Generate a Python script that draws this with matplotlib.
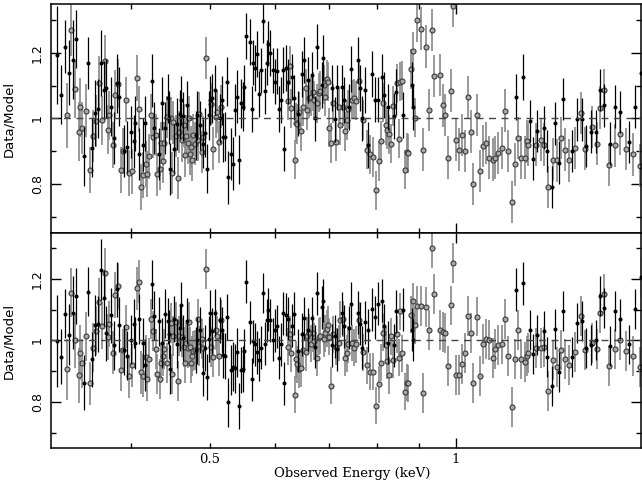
import matplotlib
matplotlib.use("Agg")
import matplotlib.pyplot as plt
from matplotlib.ticker import FixedLocator, FixedFormatter, NullFormatter

# filled dots (black bars): energies in keV, ratios for the two fits, 1-sigma errors
e_mos = [0.3250, 0.3287, 0.3325, 0.3362, 0.3400, 0.3429, 0.3507, 0.3547, 0.3587, 0.3618,
         0.3648, 0.3679, 0.3711, 0.3732, 0.3784, 0.3817, 0.3849, 0.3871, 0.3926, 0.3959,
         0.4004, 0.4038, 0.4049, 0.4095, 0.4141, 0.4165, 0.4248, 0.4272, 0.4332, 0.4369,
         0.4406, 0.4443, 0.4456, 0.4469, 0.4519, 0.4558, 0.4596, 0.4609, 0.4635, 0.4688,
         0.4808, 0.4822, 0.4863, 0.4904, 0.4932, 0.4959, 0.4987, 0.5001, 0.5030, 0.5072,
         0.5144, 0.5173, 0.5188, 0.5217, 0.5247, 0.5262, 0.5306, 0.5336, 0.5366, 0.5397,
         0.5427, 0.5458, 0.5489, 0.5504, 0.5535, 0.5598, 0.5630, 0.5645, 0.5677, 0.5709,
         0.5742, 0.5774, 0.5807, 0.5839, 0.5872, 0.5889, 0.5922, 0.5972, 0.6006, 0.6040,
         0.6074, 0.6109, 0.6143, 0.6160, 0.6195, 0.6230, 0.6301, 0.6336, 0.6408, 0.6481,
         0.6517, 0.6591, 0.6666, 0.6722, 0.6760, 0.6856, 0.6876, 0.7052, 0.7112, 0.7152,
         0.7254, 0.7295, 0.7398, 0.7440, 0.7588, 0.7631, 0.7674, 0.7739, 0.7805, 0.7893,
         0.7960, 0.8028, 0.8119, 0.8164, 0.8257, 0.8398, 0.8445, 0.8613, 0.8834, 0.8859,
         1.184, 1.208, 1.232, 1.242, 1.256, 1.281, 1.292, 1.310, 1.321, 1.336,
         1.352, 1.386, 1.406, 1.426, 1.442, 1.463, 1.483, 1.500, 1.517, 1.543,
         1.565, 1.587, 1.628, 1.655, 1.684]
mos_top = [1.195, 1.072, 1.22, 1.14, 1.18, 1.243, 0.884, 1.17, 0.91, 1.017,
           1.03, 1.17, 1.087, 1.092, 1.036, 0.94, 1.108, 1.067, 0.90, 0.913,
           0.959, 0.93, 0.985, 0.892, 0.92, 0.985, 1.116, 0.97, 0.892, 1.046,
           0.971, 1.062, 1.003, 0.846, 0.908, 0.983, 1.013, 1.056, 1.007, 1.041,
           0.949, 1.01, 0.979, 0.923, 0.956, 0.846, 1.01, 1.056, 1.062, 1.087,
           1.0, 1.056, 0.942, 0.944, 1.113, 0.82, 0.892, 0.862, 1.026, 1.067,
           0.874, 1.046, 1.036, 1.095, 1.253, 1.233, 1.028, 1.171, 1.154, 1.198,
           1.074, 1.147, 1.297, 1.085, 1.171, 1.229, 1.2, 1.147, 1.113, 1.144,
           1.028, 1.056, 1.149, 0.908, 1.154, 1.113, 1.128, 1.064, 1.015, 1.136,
           1.179, 1.118, 1.133, 1.0, 1.22, 1.103, 1.185, 1.092, 0.997, 1.095,
           1.095, 1.056, 1.036, 1.151, 1.179, 1.094, 1.0, 1.087, 0.918, 1.136,
           1.058, 1.058, 1.126, 1.072, 1.036, 1.007, 1.082, 1.01, 1.103, 1.036,
           1.065, 1.128, 0.993, 0.877, 0.962, 0.972, 0.90, 0.79, 0.985, 0.865,
           1.06, 0.90, 0.997, 0.997, 0.916, 0.96, 0.96, 1.087, 1.04, 0.923,
           1.036, 1.02, 0.928, 1.036, 1.138]
mos_bot = [0.998, 0.947, 1.087, 1.019, 1.091, 1.145, 0.863, 1.159, 0.939, 1.049,
           1.054, 1.231, 1.138, 1.023, 1.082, 0.984, 1.167, 1.052, 0.969, 0.95,
           1.003, 1.055, 0.992, 1.07, 0.992, 0.919, 1.183, 1.081, 1.062, 0.992,
           1.087, 1.062, 1.02, 0.906, 1.07, 0.99, 1.041, 1.116, 1.009, 1.062,
           0.97, 1.0, 1.033, 0.894, 0.976, 0.88, 1.005, 1.089, 1.03, 1.091,
           1.066, 1.035, 0.952, 0.949, 1.076, 0.799, 0.904, 0.915, 0.909, 0.962,
           0.786, 0.904, 0.906, 0.966, 1.191, 1.059, 0.874, 0.998, 0.987, 0.962,
           0.937, 0.976, 1.156, 0.99, 1.066, 1.1, 1.066, 1.003, 1.033, 1.046,
           0.944, 0.987, 1.089, 0.861, 1.084, 1.07, 1.048, 1.087, 0.966, 1.02,
           1.073, 1.035, 1.073, 0.98, 1.154, 1.109, 1.13, 0.984, 1.014, 0.971,
           1.089, 1.046, 1.041, 1.119, 1.091, 1.055, 0.976, 1.059, 1.033, 1.102,
           1.076, 1.119, 1.13, 1.048, 0.992, 0.984, 1.095, 1.1, 1.035, 1.003,
           1.165, 1.186, 1.035, 0.955, 1.019, 1.03, 0.947, 0.851, 1.038, 0.898,
           1.095, 0.947, 1.057, 1.062, 0.976, 0.984, 1.003, 1.145, 1.105, 0.982,
           1.095, 1.07, 0.987, 1.102, 1.208]
mos_err = [0.15, 0.09, 0.08, 0.10, 0.12, 0.09, 0.09, 0.08, 0.09, 0.10,
           0.09, 0.10, 0.09, 0.09, 0.09, 0.08, 0.09, 0.09, 0.08, 0.08,
           0.08, 0.08, 0.085, 0.08, 0.08, 0.085, 0.08, 0.08, 0.08, 0.08,
           0.08, 0.075, 0.08, 0.08, 0.075, 0.08, 0.075, 0.075, 0.075, 0.075,
           0.075, 0.075, 0.075, 0.075, 0.075, 0.075, 0.075, 0.075, 0.075, 0.075,
           0.075, 0.075, 0.075, 0.075, 0.075, 0.08, 0.08, 0.08, 0.08, 0.08,
           0.075, 0.075, 0.075, 0.07, 0.07, 0.07, 0.07, 0.07, 0.07, 0.07,
           0.07, 0.07, 0.065, 0.07, 0.07, 0.07, 0.07, 0.07, 0.07, 0.07,
           0.07, 0.07, 0.07, 0.07, 0.07, 0.07, 0.07, 0.07, 0.07, 0.07,
           0.07, 0.07, 0.07, 0.07, 0.07, 0.07, 0.07, 0.07, 0.07, 0.07,
           0.07, 0.07, 0.07, 0.07, 0.07, 0.07, 0.07, 0.07, 0.07, 0.07,
           0.07, 0.07, 0.07, 0.07, 0.07, 0.07, 0.07, 0.07, 0.07, 0.07,
           0.07, 0.07, 0.065, 0.065, 0.065, 0.065, 0.065, 0.065, 0.065, 0.065,
           0.065, 0.065, 0.065, 0.065, 0.065, 0.065, 0.065, 0.065, 0.065, 0.065,
           0.065, 0.065, 0.065, 0.065, 0.065]

# open circles (grey bars)
e_pn = [0.3343, 0.3381, 0.3420, 0.3458, 0.3468, 0.3488, 0.3527, 0.3567, 0.3597, 0.3628,
        0.3659, 0.3690, 0.3721, 0.3753, 0.3763, 0.3806, 0.3827, 0.3860, 0.3893, 0.3915,
        0.3948, 0.3981, 0.4015, 0.4072, 0.4095, 0.4118, 0.4141, 0.4177, 0.4188, 0.4212,
        0.4236, 0.4260, 0.4296, 0.4308, 0.4344, 0.4357, 0.4381, 0.4394, 0.4431, 0.4481,
        0.4494, 0.4507, 0.4545, 0.4570, 0.4583, 0.4622, 0.4648, 0.4661, 0.4675, 0.4701,
        0.4714, 0.4728, 0.4741, 0.4754, 0.4768, 0.4795, 0.4835, 0.4849, 0.4890, 0.4904,
        0.4945, 0.5016, 0.5044, 0.5087, 0.5101, 0.5130, 0.5159, 0.6230, 0.6265, 0.6283,
        0.6354, 0.6372, 0.6390, 0.6426, 0.6463, 0.6499, 0.6554, 0.6573, 0.6610, 0.6647,
        0.6685, 0.6703, 0.6760, 0.6799, 0.6818, 0.6895, 0.6914, 0.6954, 0.6973, 0.6993,
        0.7032, 0.7072, 0.7132, 0.7193, 0.7213, 0.7274, 0.7315, 0.7356, 0.7377, 0.7461,
        0.7503, 0.7545, 0.7609, 0.7696, 0.7783, 0.7849, 0.7915, 0.7983, 0.8050, 0.8096,
        0.8142, 0.8211, 0.8234, 0.8280, 0.8327, 0.8374, 0.8469, 0.8517, 0.8541, 0.8589,
        0.8662, 0.8711, 0.8736, 0.8810, 0.8859, 0.8909, 0.8960, 0.906, 0.911, 0.919,
        0.927, 0.935, 0.940, 0.956, 0.964, 0.969, 0.978, 0.986, 0.992, 1.000,
        1.008, 1.017, 1.026, 1.034, 1.043, 1.049, 1.061, 1.070, 1.079, 1.088,
        1.097, 1.110, 1.116, 1.126, 1.138, 1.148, 1.158, 1.171, 1.181, 1.191,
        1.201, 1.214, 1.221, 1.225, 1.253, 1.270, 1.281, 1.296, 1.314, 1.329,
        1.344, 1.359, 1.375, 1.398, 1.422, 1.438, 1.467, 1.487, 1.500, 1.517,
        1.539, 1.565, 1.587, 1.614, 1.646, 1.679]
pn_top = [1.01, 1.27, 1.09, 0.96, 1.034, 0.971, 1.024, 0.843, 0.946, 0.993,
          1.11, 0.995, 1.176, 0.966, 1.01, 0.92, 1.072, 1.106, 0.843, 0.90,
          1.058, 0.834, 0.838, 1.124, 1.03, 0.79, 0.828, 0.862, 0.83, 0.884,
          1.01, 0.944, 0.95, 0.829, 0.846, 0.925, 0.869, 0.925, 1.005, 1.0,
          0.833, 0.988, 0.946, 0.818, 0.959, 0.933, 0.979, 0.887, 0.946, 0.925,
          1.003, 0.892, 0.913, 0.874, 0.949, 0.923, 0.935, 1.015, 0.897, 0.944,
          1.185, 1.044, 0.908, 1.005, 1.02, 0.928, 1.036, 1.054, 1.161, 1.031,
          0.874, 0.987, 0.983, 1.02, 0.961, 1.036, 1.092, 1.026, 1.062, 1.067,
          1.082, 1.056, 1.046, 1.079, 1.085, 1.103, 1.067, 1.12, 1.113, 0.972,
          0.925, 1.046, 0.929, 1.034, 0.979, 1.036, 0.961, 0.995, 1.028, 1.058,
          1.062, 1.054, 1.115, 0.995, 0.905, 0.89, 0.882, 0.78, 0.87, 0.931,
          1.048, 0.979, 0.966, 0.952, 0.923, 1.038, 1.108, 0.938, 1.113, 1.116,
          0.843, 0.897, 0.894, 1.151, 1.205, 1.003, 1.30, 1.275, 0.905, 1.22,
          1.026, 1.27, 1.13, 1.133, 1.04, 1.01, 0.88, 1.085, 1.345, 0.935,
          0.905, 0.95, 0.90, 1.065, 0.96, 0.80, 1.01, 0.84, 0.916, 0.925,
          0.88, 0.874, 0.88, 0.894, 0.91, 1.024, 0.90, 0.744, 0.86, 0.94,
          0.88, 0.88, 0.93, 0.92, 0.92, 0.935, 0.92, 0.79, 0.874, 0.872,
          0.94, 0.905, 0.872, 0.91, 1.017, 0.908, 0.974, 0.923, 1.033, 1.087,
          0.858, 0.918, 0.954, 0.906, 0.89, 0.856]
pn_bot = [0.906, 1.156, 1.001, 0.887, 0.96, 0.926, 1.014, 0.861, 0.976, 1.032,
          1.125, 1.046, 1.22, 1.011, 1.055, 0.96, 1.148, 1.177, 0.904, 0.969,
          1.044, 0.883, 0.919, 1.17, 1.191, 0.896, 0.885, 0.947, 0.874, 0.939,
          1.07, 1.03, 0.973, 0.89, 0.876, 0.926, 0.95, 0.973, 0.928, 1.057,
          0.89, 1.016, 1.059, 0.869, 1.016, 1.012, 0.98, 0.928, 0.992, 0.976,
          1.059, 0.98, 0.928, 0.95, 0.966, 0.969, 1.07, 0.982, 1.005, 0.976,
          1.234, 0.98, 0.947, 1.033, 1.016, 0.949, 1.066, 0.98, 1.02, 0.958,
          0.823, 0.939, 0.923, 0.906, 0.909, 0.969, 0.962, 1.016, 1.025, 0.99,
          1.023, 0.998, 0.944, 1.012, 1.016, 1.005, 1.023, 1.038, 1.052, 1.012,
          0.853, 1.02, 0.98, 0.992, 1.068, 1.07, 0.944, 0.958, 0.987, 0.992,
          0.976, 0.987, 1.066, 0.962, 0.919, 0.898, 0.898, 0.788, 0.858, 0.928,
          1.025, 0.984, 0.933, 0.887, 1.014, 0.937, 1.02, 0.944, 1.095, 0.958,
          0.833, 0.863, 0.861, 1.084, 1.127, 1.05, 1.113, 1.111, 0.829, 1.109,
          1.033, 1.302, 1.152, 1.035, 1.027, 1.023, 0.917, 1.114, 1.253, 0.888,
          0.888, 0.923, 0.958, 1.081, 1.025, 0.861, 1.078, 0.885, 0.99, 1.005,
          1.003, 0.944, 0.973, 0.984, 0.987, 1.07, 0.949, 0.783, 0.941, 1.033,
          0.941, 0.93, 0.949, 0.96, 0.976, 0.976, 0.98, 0.837, 0.937, 0.915,
          0.969, 0.941, 0.919, 0.962, 1.081, 0.969, 0.992, 0.973, 1.089, 1.152,
          0.917, 0.971, 1.001, 0.966, 0.949, 0.915]
pn_err = [0.10, 0.08, 0.09, 0.09, 0.09, 0.08, 0.08, 0.07, 0.08, 0.08,
          0.08, 0.075, 0.08, 0.075, 0.075, 0.07, 0.075, 0.075, 0.07, 0.07,
          0.07, 0.07, 0.07, 0.07, 0.07, 0.07, 0.07, 0.07, 0.07, 0.07,
          0.065, 0.065, 0.065, 0.065, 0.065, 0.065, 0.065, 0.065, 0.065, 0.065,
          0.065, 0.065, 0.065, 0.065, 0.065, 0.065, 0.065, 0.065, 0.065, 0.065,
          0.065, 0.065, 0.065, 0.065, 0.065, 0.065, 0.065, 0.065, 0.065, 0.065,
          0.065, 0.065, 0.065, 0.065, 0.065, 0.065, 0.065, 0.06, 0.06, 0.06,
          0.06, 0.06, 0.06, 0.06, 0.06, 0.06, 0.06, 0.06, 0.06, 0.06,
          0.06, 0.06, 0.06, 0.06, 0.06, 0.06, 0.06, 0.06, 0.06, 0.06,
          0.06, 0.06, 0.06, 0.06, 0.06, 0.06, 0.06, 0.06, 0.06, 0.06,
          0.06, 0.06, 0.06, 0.06, 0.06, 0.06, 0.06, 0.06, 0.06, 0.06,
          0.06, 0.06, 0.06, 0.06, 0.06, 0.06, 0.06, 0.06, 0.06, 0.06,
          0.06, 0.06, 0.06, 0.06, 0.06, 0.06, 0.065, 0.065, 0.065, 0.065,
          0.065, 0.065, 0.065, 0.065, 0.065, 0.065, 0.065, 0.065, 0.065, 0.065,
          0.065, 0.065, 0.065, 0.065, 0.065, 0.065, 0.065, 0.065, 0.065, 0.065,
          0.065, 0.065, 0.065, 0.065, 0.065, 0.065, 0.065, 0.065, 0.065, 0.065,
          0.065, 0.065, 0.065, 0.065, 0.065, 0.065, 0.065, 0.065, 0.065, 0.065,
          0.065, 0.065, 0.065, 0.065, 0.065, 0.065, 0.065, 0.065, 0.065, 0.065,
          0.065, 0.065, 0.065, 0.065, 0.065, 0.065]

minor_x = [0.4, 0.5, 0.6, 0.7, 0.8, 0.9]
minor_x_labels = ["", "0.5", "", "", "", ""]
y_major = [0.8, 1.0, 1.2]
y_labels = ["0.8", "1", "1.2"]
y_minor = [0.7, 0.9, 1.1, 1.3]

fig = plt.figure(figsize=(6.42, 4.87), dpi=100)
ax1 = fig.add_axes([0.0794, 0.5216, 0.9198, 0.4702])
ax2 = fig.add_axes([0.0794, 0.0801, 0.9198, 0.4415], sharex=ax1)

for ax, pn_v, mos_v in [(ax1, pn_top, mos_top), (ax2, pn_bot, mos_bot)]:
    ax.errorbar(e_pn, pn_v, yerr=pn_err, fmt="o", ms=3.6, mfc="#a8a8a8", mec="#3a3a3a",
                mew=0.8, ecolor="#888888", elinewidth=1.2, capsize=0, zorder=2)
    ax.errorbar(e_mos, mos_v, yerr=mos_err, fmt="o", ms=1.9, mfc="black", mec="black",
                ecolor="black", elinewidth=0.9, capsize=0, zorder=3)
    ax.axhline(1.0, color="#444444", ls=(0, (5, 4)), lw=1.0, zorder=4)
    ax.set_xscale("log")
    ax.set_xlim(0.3197, 1.686)
    ax.set_ylim(0.65, 1.35)
    ax.xaxis.set_major_locator(FixedLocator([1.0]))
    ax.xaxis.set_minor_locator(FixedLocator(minor_x))
    ax.yaxis.set_major_locator(FixedLocator(y_major))
    ax.yaxis.set_minor_locator(FixedLocator(y_minor))
    ax.yaxis.set_major_formatter(FixedFormatter(y_labels))
    ax.yaxis.set_minor_formatter(NullFormatter())
    ax.tick_params(which="both", direction="in", top=True, right=True, width=1.0)
    ax.tick_params(which="major", length=7)
    ax.tick_params(which="minor", length=3.5)
    ax.tick_params(axis="y", labelsize=9, pad=5)
    for lab in ax.get_yticklabels():
        lab.set_rotation(90)
        lab.set_va("center")
    for sp in ax.spines.values():
        sp.set_linewidth(1.1)
    ax.set_ylabel("Data/Model", fontsize=9.5)
    ax.yaxis.set_label_coords(-0.061, 0.5)

ax1.xaxis.set_major_formatter(NullFormatter())
ax1.xaxis.set_minor_formatter(NullFormatter())
ax1.tick_params(axis="x", labelbottom=False)
ax2.xaxis.set_major_formatter(FixedFormatter(["1"]))
ax2.xaxis.set_minor_formatter(FixedFormatter(minor_x_labels))
ax2.tick_params(axis="x", which="both", labelsize=9.5, pad=3.5, labelbottom=True)
for lab in ax2.get_xticklabels(which="both"):
    lab.set_family("DejaVu Serif")

fig.text(0.548, 0.0267, "Observed Energy (keV)", ha="center", va="center",
         fontsize=9.5, family="DejaVu Serif")

fig.savefig("out.png", dpi=100)
